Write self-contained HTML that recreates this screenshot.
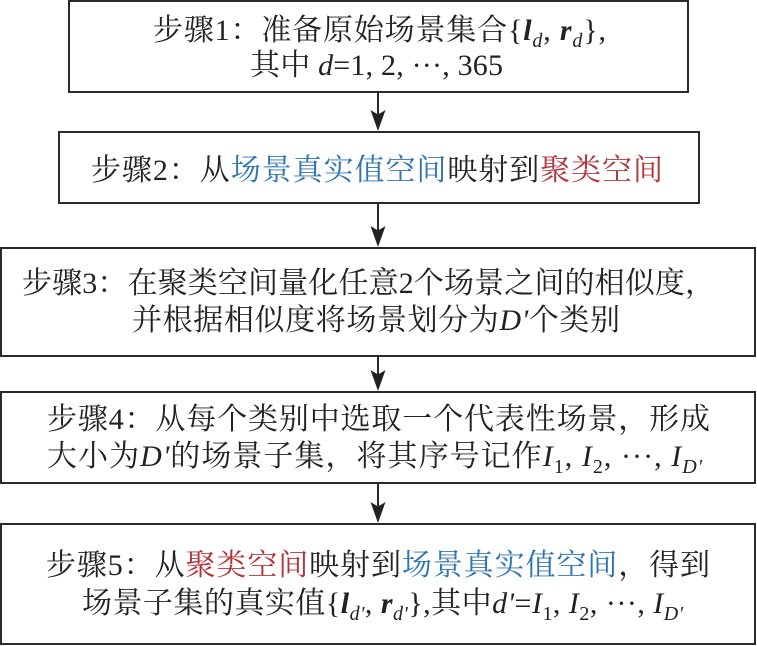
<!DOCTYPE html>
<html>
<head>
<meta charset="utf-8">
<style>
  html, body { margin: 0; padding: 0; background: #ffffff; }
  body { width: 757px; height: 646px; overflow: hidden; }
  svg { display: block; }
  text { font-family: "Liberation Serif", "Noto Serif CJK SC", "Noto Serif CJK JP", "Noto Serif CJK TC", serif; font-size: 30px; fill: #222222; white-space: pre; }
  .b { fill: #2f75b5; }
  .r { fill: #b3353a; }
  .i { font-style: italic; }
  .bi { font-style: italic; font-weight: bold; }
</style>
</head>
<body>
<svg width="757" height="646" viewBox="0 0 757 646" xmlns="http://www.w3.org/2000/svg">
  <g fill="none" stroke="#2a2a2a" stroke-width="2">
    <rect x="69" y="1" width="619" height="91"/>
    <rect x="59" y="132" width="640" height="71"/>
    <rect x="1" y="248" width="754" height="108"/>
    <rect x="1" y="392" width="754" height="91"/>
    <rect x="1" y="524" width="754" height="120"/>
    <line x1="378" y1="93" x2="378" y2="116"/>
    <line x1="378" y1="204" x2="378" y2="232"/>
    <line x1="378" y1="357" x2="378" y2="376"/>
    <line x1="378" y1="484" x2="378" y2="508"/>
  </g>
  <g fill="#222222">
    <path d="M378,131 L370.5,110 L378,114.5 L385.5,110 Z"/>
    <path d="M378,247 L370.5,226 L378,230.5 L385.5,226 Z"/>
    <path d="M378,391 L370.5,370 L378,374.5 L385.5,370 Z"/>
    <path d="M378,523 L370.5,502 L378,506.5 L385.5,502 Z"/>
  </g>

  <!-- Box 1 -->
  <text x="153" y="40" textLength="453" lengthAdjust="spacing">步骤1：准备原始场景集合{<tspan class="bi">l</tspan><tspan class="i" font-size="20" dy="7">d</tspan><tspan dy="-7">, </tspan><tspan class="bi">r</tspan><tspan class="i" font-size="20" dy="7">d</tspan><tspan dy="-7">},</tspan></text>
  <text x="250" y="75" textLength="253" lengthAdjust="spacing">其中 <tspan class="i">d</tspan>=1, 2, ···, 365</text>

  <!-- Box 2 -->
  <text x="91" y="180" textLength="572" lengthAdjust="spacing">步骤2：从<tspan class="b">场景真实值空间</tspan>映射到<tspan class="r">聚类空间</tspan></text>

  <!-- Box 3 -->
  <text x="22" y="293" textLength="693" lengthAdjust="spacing">步骤3：在聚类空间量化任意2个场景之间的相似度，</text>
  <text x="132" y="330" textLength="488" lengthAdjust="spacing">并根据相似度将场景划分为<tspan class="i">D'</tspan>个类别</text>

  <!-- Box 4 -->
  <text x="47" y="429" textLength="663" lengthAdjust="spacing">步骤4：从每个类别中选取一个代表性场景，形成</text>
  <text x="47" y="466" textLength="655" lengthAdjust="spacing">大小为<tspan class="i">D'</tspan>的场景子集，将其序号记作<tspan class="i">I</tspan><tspan font-size="20" dy="7">1</tspan><tspan dy="-7">, </tspan><tspan class="i">I</tspan><tspan font-size="20" dy="7">2</tspan><tspan dy="-7">, ···, </tspan><tspan class="i">I</tspan><tspan class="i" font-size="20" dy="7">D'</tspan></text>

  <!-- Box 5 -->
  <text x="46" y="575" textLength="664" lengthAdjust="spacing">步骤5：从<tspan class="r">聚类空间</tspan>映射到<tspan class="b">场景真实值空间</tspan>，得到</text>
  <text x="82" y="613" textLength="601" lengthAdjust="spacing">场景子集的真实值{<tspan class="bi">l</tspan><tspan class="i" font-size="20" dy="7">d'</tspan><tspan dy="-7">, </tspan><tspan class="bi">r</tspan><tspan class="i" font-size="20" dy="7">d'</tspan><tspan dy="-7">},其中</tspan><tspan class="i">d'</tspan>=<tspan class="i">I</tspan><tspan font-size="20" dy="7">1</tspan><tspan dy="-7">, </tspan><tspan class="i">I</tspan><tspan font-size="20" dy="7">2</tspan><tspan dy="-7">, ···, </tspan><tspan class="i">I</tspan><tspan class="i" font-size="20" dy="7">D'</tspan></text>
</svg>
</body>
</html>
